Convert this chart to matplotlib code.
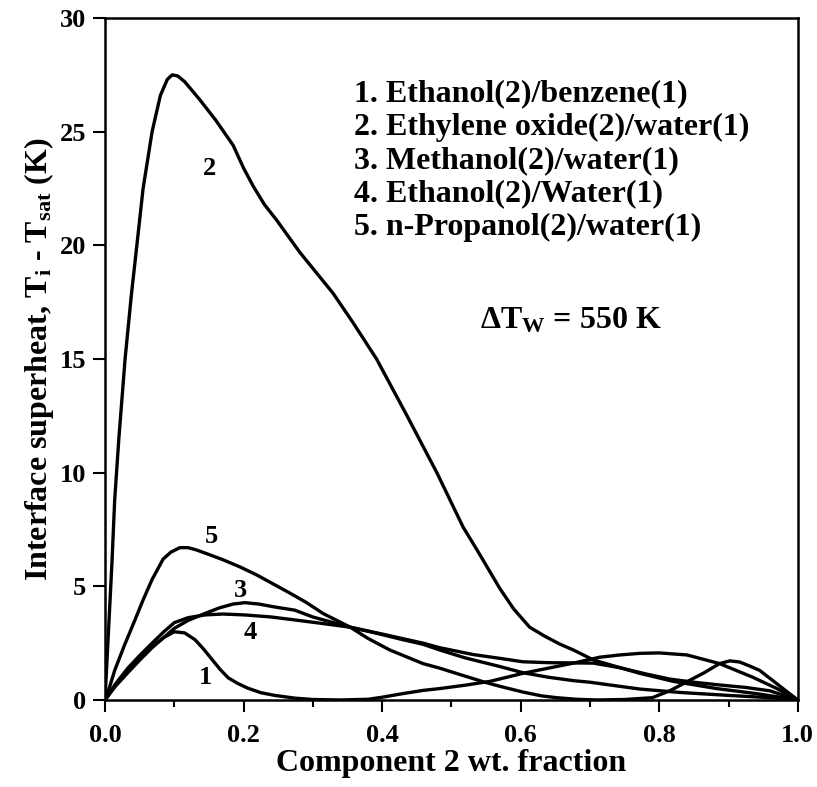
import matplotlib
matplotlib.use("Agg")
import matplotlib.pyplot as plt
from matplotlib.ticker import MultipleLocator

plt.rcParams["font.family"] = ["Liberation Serif", "DejaVu Serif"]
plt.rcParams["font.weight"] = "bold"
plt.rcParams["mathtext.fontset"] = "custom"
plt.rcParams["mathtext.rm"] = "Liberation Serif:bold"
plt.rcParams["mathtext.it"] = "Liberation Serif:bold"
plt.rcParams["mathtext.bf"] = "Liberation Serif:bold"

# 1. Ethanol(2)/benzene(1)
x1 = [0.0, 0.015, 0.033, 0.05, 0.068, 0.085, 0.1, 0.115, 0.13, 0.142, 0.154, 0.166, 0.178,
      0.192, 0.206, 0.225, 0.245, 0.274, 0.3, 0.34, 0.38, 0.40, 0.43, 0.459, 0.483, 0.52,
      0.556, 0.603, 0.64, 0.676, 0.714, 0.743, 0.772, 0.80, 0.84, 0.887, 0.935, 0.97, 1.0]
y1 = [0.0, 0.65, 1.3, 1.85, 2.35, 2.75, 3.0, 2.95, 2.65, 2.25, 1.8, 1.35, 0.97,
      0.72, 0.52, 0.32, 0.2, 0.08, 0.02, 0.0, 0.03, 0.12, 0.28, 0.42, 0.5, 0.65,
      0.82, 1.17, 1.4, 1.62, 1.88, 1.98, 2.05, 2.07, 1.98, 1.6, 1.0, 0.5, 0.0]

# 2. Ethylene oxide(2)/water(1)
x2 = [0.0, 0.005, 0.01, 0.014, 0.02, 0.029, 0.038, 0.046, 0.055, 0.068, 0.08, 0.09, 0.097,
      0.105, 0.115, 0.137, 0.16, 0.185, 0.2, 0.214, 0.23, 0.248, 0.281, 0.329, 0.358, 0.392,
      0.436, 0.479, 0.498, 0.517, 0.537, 0.57, 0.59, 0.613, 0.635, 0.657, 0.676, 0.705,
      0.74, 0.772, 0.82, 0.883, 0.94, 1.0]
y2 = [0.0, 3.0, 6.0, 8.8, 11.5, 15.0, 17.8, 20.0, 22.5, 25.0, 26.6, 27.3, 27.5,
      27.45, 27.2, 26.4, 25.5, 24.4, 23.4, 22.6, 21.8, 21.1, 19.7, 17.9, 16.6, 15.0,
      12.5, 10.0, 8.8, 7.6, 6.6, 4.9, 4.0, 3.2, 2.8, 2.45, 2.2, 1.76,
      1.45, 1.17, 0.82, 0.5, 0.28, 0.0]

# 3. Methanol(2)/water(1)
x3 = [0.0, 0.015, 0.033, 0.05, 0.068, 0.085, 0.1, 0.12, 0.144, 0.165, 0.185, 0.202, 0.222,
      0.243, 0.274, 0.3, 0.33, 0.354, 0.39, 0.43, 0.459, 0.483, 0.52, 0.57, 0.603, 0.64,
      0.676, 0.70, 0.743, 0.772, 0.83, 0.9, 0.96, 1.0]
y3 = [0.0, 0.6, 1.2, 1.75, 2.3, 2.75, 3.15, 3.5, 3.8, 4.05, 4.22, 4.28, 4.22,
      4.1, 3.95, 3.65, 3.4, 3.2, 2.95, 2.65, 2.45, 2.2, 1.85, 1.47, 1.2, 1.0,
      0.85, 0.78, 0.6, 0.48, 0.33, 0.2, 0.1, 0.0]

# 4. Ethanol(2)/Water(1)
x4 = [0.0, 0.015, 0.033, 0.05, 0.068, 0.085, 0.1, 0.12, 0.144, 0.17, 0.202, 0.24, 0.274,
      0.31, 0.354, 0.4, 0.459, 0.483, 0.531, 0.57, 0.603, 0.64, 0.675, 0.705, 0.743,
      0.78, 0.815, 0.85, 0.887, 0.925, 0.96, 1.0]
y4 = [0.0, 0.7, 1.4, 1.95, 2.5, 3.0, 3.4, 3.62, 3.74, 3.78, 3.74, 3.65, 3.52,
      3.38, 3.2, 2.9, 2.5, 2.3, 2.0, 1.83, 1.68, 1.64, 1.63, 1.62, 1.42,
      1.15, 0.92, 0.78, 0.66, 0.55, 0.4, 0.0]

# 5. n-Propanol(2)/water(1)
x5 = [0.0, 0.007, 0.014, 0.028, 0.043, 0.055, 0.068, 0.084, 0.095, 0.108, 0.12, 0.132,
      0.15, 0.171, 0.195, 0.219, 0.243, 0.267, 0.29, 0.315, 0.354, 0.38, 0.411, 0.435,
      0.459, 0.483, 0.507, 0.546, 0.57, 0.603, 0.63, 0.652, 0.68, 0.71, 0.75, 0.79,
      0.815, 0.84, 0.865, 0.887, 0.902, 0.916, 0.93, 0.945, 0.964, 0.985, 1.0]
y5 = [0.0, 0.6, 1.3, 2.4, 3.5, 4.4, 5.3, 6.2, 6.5, 6.7, 6.7, 6.6,
      6.4, 6.16, 5.85, 5.5, 5.1, 4.7, 4.3, 3.8, 3.2, 2.7, 2.2, 1.9,
      1.6, 1.4, 1.17, 0.8, 0.6, 0.35, 0.18, 0.1, 0.03, 0.0, 0.02, 0.1,
      0.4, 0.8, 1.2, 1.6, 1.72, 1.67, 1.5, 1.3, 0.85, 0.35, 0.0]

series = [(x1, y1), (x2, y2), (x3, y3), (x4, y4), (x5, y5)]
curve_labels = ["1", "2", "3", "4", "5"]
label_x = [0.145, 0.151, 0.195, 0.209, 0.154]
label_y = [1.0, 23.4, 4.8, 2.95, 7.2]

legend_lines = [
    "1. Ethanol(2)/benzene(1)",
    "2. Ethylene oxide(2)/water(1)",
    "3. Methanol(2)/water(1)",
    "4. Ethanol(2)/Water(1)",
    "5. n-Propanol(2)/water(1)",
]

fig = plt.figure(figsize=(8.17, 7.87), dpi=100)
ax = fig.add_axes([0.1285, 0.1106, 0.848, 0.8665])

for xs, ys in series:
    ax.plot(xs, ys, color="black", linewidth=2.4, solid_joinstyle="round")

for lab, lx, ly in zip(curve_labels, label_x, label_y):
    ax.text(lx, ly, lab, fontsize=19, fontweight="bold", ha="center", va="center")

ax.text(0.36, 27.3, "\n".join(legend_lines), fontsize=23, fontweight="bold",
        ha="left", va="top", linespacing=1.2)
ax.text(0.541, 16.7, r"$\Delta$T$_{\mathrm{W}}$ = 550 K", fontsize=23,
        fontweight="bold", ha="left", va="center")

ax.set_xlim(0, 1.0)
ax.set_ylim(0, 30)
ax.xaxis.set_major_locator(MultipleLocator(0.2))
ax.xaxis.set_minor_locator(MultipleLocator(0.1))
ax.yaxis.set_major_locator(MultipleLocator(5))
ax.tick_params(axis="both", which="major", direction="out", length=8.5, width=1.5,
               labelsize=19)
ax.tick_params(axis="x", which="minor", direction="out", length=5, width=1.5)
ax.tick_params(axis="x", which="major", pad=9)
ax.tick_params(axis="y", which="major", pad=5)
ax.xaxis.set_major_formatter(plt.FuncFormatter(lambda v, p: f"{v:.1f}"))
for lbl in ax.get_xticklabels() + ax.get_yticklabels():
    lbl.set_fontweight("bold")
for sp in ax.spines.values():
    sp.set_linewidth(1.8)

ax.set_xlabel("Component 2 wt. fraction", fontsize=23, fontweight="bold", labelpad=1)
ax.set_ylabel(r"Interface superheat, T$_{\mathrm{i}}$ - T$_{\mathrm{sat}}$ (K)",
              fontsize=23, fontweight="bold", labelpad=3)

plt.savefig("out.png", dpi=100)
